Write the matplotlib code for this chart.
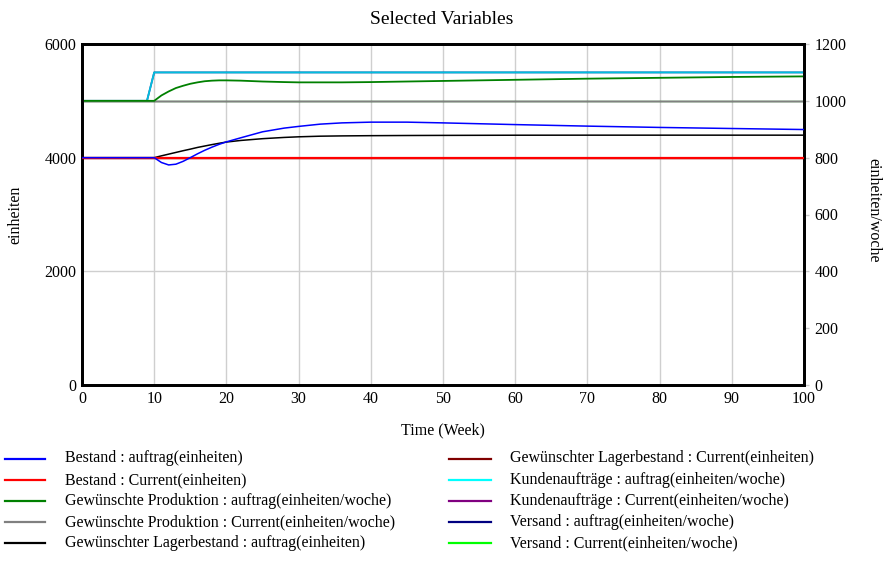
import matplotlib
matplotlib.use("Agg")
import matplotlib.pyplot as plt
from matplotlib.lines import Line2D

plt.rcParams['font.family'] = ['Liberation Serif', 'DejaVu Serif']

# ---------------- data ----------------
time = [0, 9, 10, 11, 12, 13, 14, 15, 16, 17, 18, 19, 20, 22, 25, 28, 30, 33, 36,
        40, 45, 50, 60, 70, 80, 90, 100]

bestand_auftrag = [4000, 4000, 4000, 3915, 3872, 3885, 3935, 4000, 4068, 4130, 4185,
                   4235, 4278, 4350, 4455, 4520, 4550, 4590, 4612, 4625, 4625, 4612,
                   4582, 4555, 4532, 4513, 4495]
bestand_current = [4000] * len(time)

gew_prod_auftrag = [1000, 1000, 1000, 1019, 1033, 1045, 1053, 1060, 1065, 1069, 1071,
                    1072, 1072, 1071, 1068, 1066, 1065, 1065, 1065, 1066, 1068, 1070,
                    1074, 1078, 1081, 1084, 1086]
gew_prod_current = [1000] * len(time)

gew_lager_auftrag = [4000, 4000, 4000, 4032, 4062, 4092, 4122, 4150, 4180, 4205, 4230,
                     4253, 4275, 4303, 4334, 4356, 4367, 4378, 4383, 4387, 4390, 4392,
                     4395, 4396, 4396, 4396, 4396]
gew_lager_current = [4000] * len(time)

kunden_auftrag = [1000, 1000, 1100, 1100, 1100, 1100, 1100, 1100, 1100, 1100, 1100,
                  1100, 1100, 1100, 1100, 1100, 1100, 1100, 1100, 1100, 1100, 1100,
                  1100, 1100, 1100, 1100, 1100]
kunden_current = [1000] * len(time)

versand_auftrag = list(kunden_auftrag)
versand_current = [1000] * len(time)

left_ticks = [0, 2000, 4000, 6000]
right_ticks = [0, 200, 400, 600, 800, 1000, 1200]
x_ticks = [0, 10, 20, 30, 40, 50, 60, 70, 80, 90, 100]

series = [
    # label, data, axis, color, lw
    ("Bestand : auftrag(einheiten)", bestand_auftrag, "L", "#0000ff", 1.1),
    ("Bestand : Current(einheiten)", bestand_current, "L", "#ff0000", 1.6),
    ("Gewünschte Produktion : auftrag(einheiten/woche)", gew_prod_auftrag, "R", "#008000", 1.3),
    ("Gewünschte Produktion : Current(einheiten/woche)", gew_prod_current, "R", "#808080", 1.0),
    ("Gewünschter Lagerbestand : auftrag(einheiten)", gew_lager_auftrag, "L", "#000000", 1.1),
    ("Gewünschter Lagerbestand : Current(einheiten)", gew_lager_current, "L", "#800000", 1.0),
    ("Kundenaufträge : auftrag(einheiten/woche)", kunden_auftrag, "R", "#00ffff", 1.3),
    ("Kundenaufträge : Current(einheiten/woche)", kunden_current, "R", "#800080", 1.0),
    ("Versand : auftrag(einheiten/woche)", versand_auftrag, "R", "#000080", 1.3),
    ("Versand : Current(einheiten/woche)", versand_current, "R", "#00ff00", 1.0),
]

W, H = 890, 568
fig = plt.figure(figsize=(W / 100, H / 100), dpi=100)
x0, x1, y0, y1 = 82, 804, 44, 385
ax = fig.add_axes([x0 / W, 1 - y1 / H, (x1 - x0) / W, (y1 - y0) / H])
ax2 = ax.twinx()

ax.set_zorder(2)
ax.patch.set_visible(False)
ax2.set_zorder(1)

n = len(series)
for i, (lab, data, side, color, lw) in enumerate(series):
    target = ax if side == "L" else ax2
    alpha = 0.75 if color == "#00ffff" else 1.0
    target.plot(time, data, color=color, lw=lw, alpha=alpha, zorder=10 + (n - i),
                solid_capstyle='butt')

ax.set_xlim(0, 100)
ax.set_ylim(0, 6000)
ax2.set_ylim(0, 1200)
ax.set_xticks(x_ticks)
ax.set_yticks(left_ticks)
ax2.set_yticks(right_ticks)

grid_color = "#cfcfcf"
for t in x_ticks[1:-1]:
    ax2.axvline(t, color=grid_color, lw=1.0, zorder=0)
for v in left_ticks[1:-1]:
    ax2.axhline(v / 5, color=grid_color, lw=1.0, zorder=0)

fs = 11.5
ax.tick_params(axis='y', length=0, pad=4, labelsize=fs)
ax.tick_params(axis='x', length=0, pad=4, labelsize=fs)
ax2.tick_params(axis='y', length=3.6, width=1, color="#c8c8c8", pad=4, labelsize=fs)

for a in (ax, ax2):
    for s in a.spines.values():
        s.set_linewidth(2.0)
        s.set_color("black")

ax.set_ylabel("einheiten", fontsize=fs, va='center')
ax.yaxis.set_label_coords((15 - x0) / (x1 - x0), 0.5)
ax2.set_ylabel("einheiten/woche", fontsize=fs, rotation=-90, va='center')
ax2.yaxis.set_label_coords((873 - x0) / (x1 - x0), (y1 - 210) / (y1 - y0))
ax.set_xlabel("Time (Week)", fontsize=fs, va='center')
ax.xaxis.set_label_coords(0.5, (y1 - 430) / (y1 - y0))

fig.text(442 / W, 1 - 19 / H, "Selected Variables", ha='center', va='center', fontsize=14)

# legend (manual, two columns)
rows_y = [458.5, 480, 501, 522, 543]
for i, (lab, data, side, color, lw) in enumerate(series):
    col = i // 5
    r = i % 5
    yy = 1 - rows_y[r] / H
    if col == 0:
        lx0, lx1, tx = 5, 45, 65
    else:
        lx0, lx1, tx = 449, 491, 510
    fig.add_artist(Line2D([lx0 / W, lx1 / W], [yy, yy], color=color, lw=1.6,
                          transform=fig.transFigure))
    fig.text(tx / W, yy, lab, ha='left', va='center', fontsize=fs)

fig.savefig("out.png", dpi=100)
